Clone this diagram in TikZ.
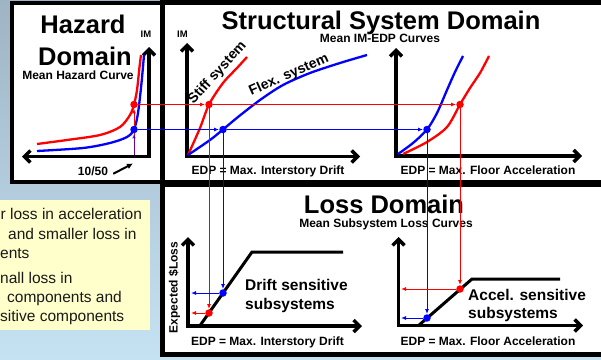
\documentclass[tikz,border=0pt]{standalone}
\usepackage{fontspec}
\setmainfont{Liberation Sans}
\usetikzlibrary{arrows.meta}

\definecolor{skytop}{HTML}{9FB4C5}
\definecolor{skybot}{HTML}{C5E2F3}
\definecolor{notebg}{HTML}{FFFFCC}

\begin{document}
\begin{tikzpicture}[
    x=1pt, y=-1pt,
    panel/.style={draw=black, line width=4.5pt, fill=white},
    axisline/.style={line width=3.5pt, line join=miter,
        {Straight Barb[length=6pt,width=12pt]}-{Straight Barb[length=6pt,width=12pt]}},
    bigtitle/.style={font=\fontsize{25.5}{30}\selectfont\bfseries, anchor=base, inner sep=0pt},
    subtitle/.style={font=\fontsize{12}{14}\selectfont\bfseries, anchor=base, inner sep=0pt},
    axlabel/.style={font=\fontsize{12}{14}\selectfont\bfseries, anchor=base, inner sep=0pt},
    imlabel/.style={font=\fontsize{9.5}{11}\selectfont\bfseries, anchor=base, inner sep=0pt},
    curvelabel/.style={font=\fontsize{14}{16}\selectfont\bfseries, inner sep=0pt},
    subsys/.style={font=\fontsize{15.5}{19}\selectfont\bfseries, anchor=base west, inner sep=0pt},
    notetext/.style={font=\fontsize{15.5}{19}\selectfont, anchor=base west, inner sep=0pt, text=black!90},
    rcurve/.style={red, line width=2.3pt},
    bcurve/.style={blue, line width=2.3pt},
    losscurve/.style={black, line width=3pt},
    rdot/.style={circle, fill=red, inner sep=0pt, minimum size=7.5pt},
    bdot/.style={circle, fill=blue, inner sep=0pt, minimum size=7.5pt},
    link/.style={line width=1pt, -{Latex[length=5pt,width=4pt]}},
    rlink/.style={link, red},
    blink/.style={link, blue},
]
\useasboundingbox (0,0) rectangle (601,359);

% Sfondo
\shade[top color=skytop, bottom color=skybot] (0,0) rectangle (601,359);

% Nota (tagliata a sinistra)
\fill[notebg] (-5,200) rectangle (150,330);
\node[notetext] (note1) at (0.5,219.5) {r loss in acceleration};
\node[notetext] (note2) at (8,239.5) {and smaller loss in};
\node[notetext] (note3) at (0,258) {ents};
\node[notetext] (note4) at (0,283) {nall loss in};
\node[notetext] (note5) at (7,302) {components and};
\node[notetext] (note6) at (0,321.5) {sitive components};

% Riquadri
\draw[panel] (12,3) rectangle (162.5,182);
\draw[panel] (162.5,2.5) rectangle (612,182);
\draw[panel] (162.5,185) rectangle (612,354.5);

% Titoli
\node[bigtitle] (hzTitleA) at (83,33) {Hazard};
\node[bigtitle] (hzTitleB) at (85,65) {Domain};
\node[subtitle] (hzSub) at (78,79) {Mean Hazard Curve};
\node[bigtitle] (stTitle) at (381,29) {Structural System Domain};
\node[subtitle] (stSub) at (380,42.5) {Mean IM-EDP Curves};
\node[bigtitle] (lsTitle) at (384,213) {Loss Domain};
\node[subtitle] (lsSub) at (386,227) {Mean Subsystem Loss Curves};

% Assi
\draw[axisline] (22,156.5) -- (149,156.5) -- (149,47);
\draw[axisline] (187,43) -- (187,156.5) -- (360,156.5);
\draw[axisline] (396,48) -- (396,156) -- (582,156);
\draw[axisline] (188,237) -- (188,326) -- (362,326);
\draw[axisline] (398.5,237) -- (398.5,325.5) -- (583,325.5);

\node[imlabel] (hzIM) at (146,37) {IM};
\node[imlabel] (stIM) at (182.5,37) {IM};
\node[axlabel] (lab1050) at (93,175) {10/50};
\node[axlabel] (edpA) at (268,174) {EDP = Max. Interstory Drift};
\node[axlabel] (edpB) at (488,174) {EDP = Max. Floor Acceleration};
\node[axlabel] (edpC) at (267.5,345) {EDP = Max. Interstory Drift};
\node[axlabel] (edpD) at (488,345) {EDP = Max. Floor Acceleration};
\node[axlabel, rotate=90] (lossY) at (177.5,287.5) {Expected \$Loss};

% Curve di pericolosita
\draw[rcurve] plot[smooth] coordinates {(37,144) (67,140) (100,135) (120,127) (130,115) (134,104.5) (137,90) (139.5,67) (141,55)};
\draw[bcurve] plot[smooth] coordinates {(37,151) (83,148) (110,143) (127,137) (134,129.5) (138,113) (141.5,83) (144,55)};

% Curve IM-EDP
\draw[rcurve] plot[smooth] coordinates {(188,155) (200,128) (209,104.5) (223,83) (237,68) (247,57)};
\draw[bcurve] plot[smooth] coordinates {(188,155) (210,140) (223,129.5) (238,117) (260,100) (283,85) (310,73) (340,63) (367,55)};
\draw[bcurve] plot[smooth] coordinates {(398,154) (413,143) (427,129.5) (437,113) (447,90) (455,72) (463,56)};
\draw[rcurve] plot[smooth] coordinates {(403,154) (427,142) (447,127) (460,104.5) (470,88) (480,73) (489,56)};

\node[curvelabel, rotate=48] (stiffLab) at (217.5,73) {Stiff system};
\node[curvelabel, rotate=24] (flexLab) at (289,75) {Flex. system};

% Curve di perdita
\draw[losscurve] (199,327) -- (252,252) -- (343,252);
\draw[losscurve] (418,326) -- (472,279) -- (560,279);
\node[subsys] (driftLab1) at (245,290) {Drift sensitive};
\node[subsys] (driftLab2) at (245,309) {subsystems};
\node[subsys] (accLab1) at (468,300) {Accel. sensitive};
\node[subsys] (accLab2) at (468,318.5) {subsystems};

% Punti
\node[rdot] (hzR) at (134,104.5) {};
\node[bdot] (hzB) at (134,129.5) {};
\node[rdot] (stR) at (209,104.5) {};
\node[bdot] (flB) at (223,129.5) {};
\node[rdot] (acR) at (460,104.5) {};
\node[bdot] (acB) at (427,129.5) {};
\node[rdot] (ldR) at (209,313) {};
\node[bdot] (ldB) at (223,293) {};
\node[rdot] (laR) at (460,289) {};
\node[bdot] (laB) at (427,318) {};

\coordinate (hz1050) at (134,155);
\coordinate (ldRy) at (191,313);
\coordinate (ldBy) at (191,293);
\coordinate (laRy) at (401,289);
\coordinate (laBy) at (401,318);
\coordinate (p1050) at (133,163.5);

% Collegamenti
\draw[red, line width=1pt] (hz1050) -- (hzB);
\draw[blink, opacity=0.55] (hz1050) -- (hzB);
\draw[rlink] (hzB) -- (hzR);
\draw[rlink] (hzR) -- (stR);
\draw[rlink] (stR) -- (acR);
\draw[blink] (hzB) -- (flB);
\draw[blink] (flB) -- (acB);
\draw[rlink] (stR) -- (ldR);
\draw[blink] (flB) -- (ldB);
\draw[rlink] (acR) -- (laR);
\draw[blink] (acB) -- (laB);
\draw[rlink] (ldR) -- (ldRy);
\draw[blink] (ldB) -- (ldBy);
\draw[rlink] (laR) -- (laRy);
\draw[blink] (laB) -- (laBy);
\draw[line width=2pt, -{Latex[length=6pt,width=6pt]}] ([xshift=5pt,yshift=-3pt]lab1050.east) -- (p1050);

\end{tikzpicture}
\end{document}
